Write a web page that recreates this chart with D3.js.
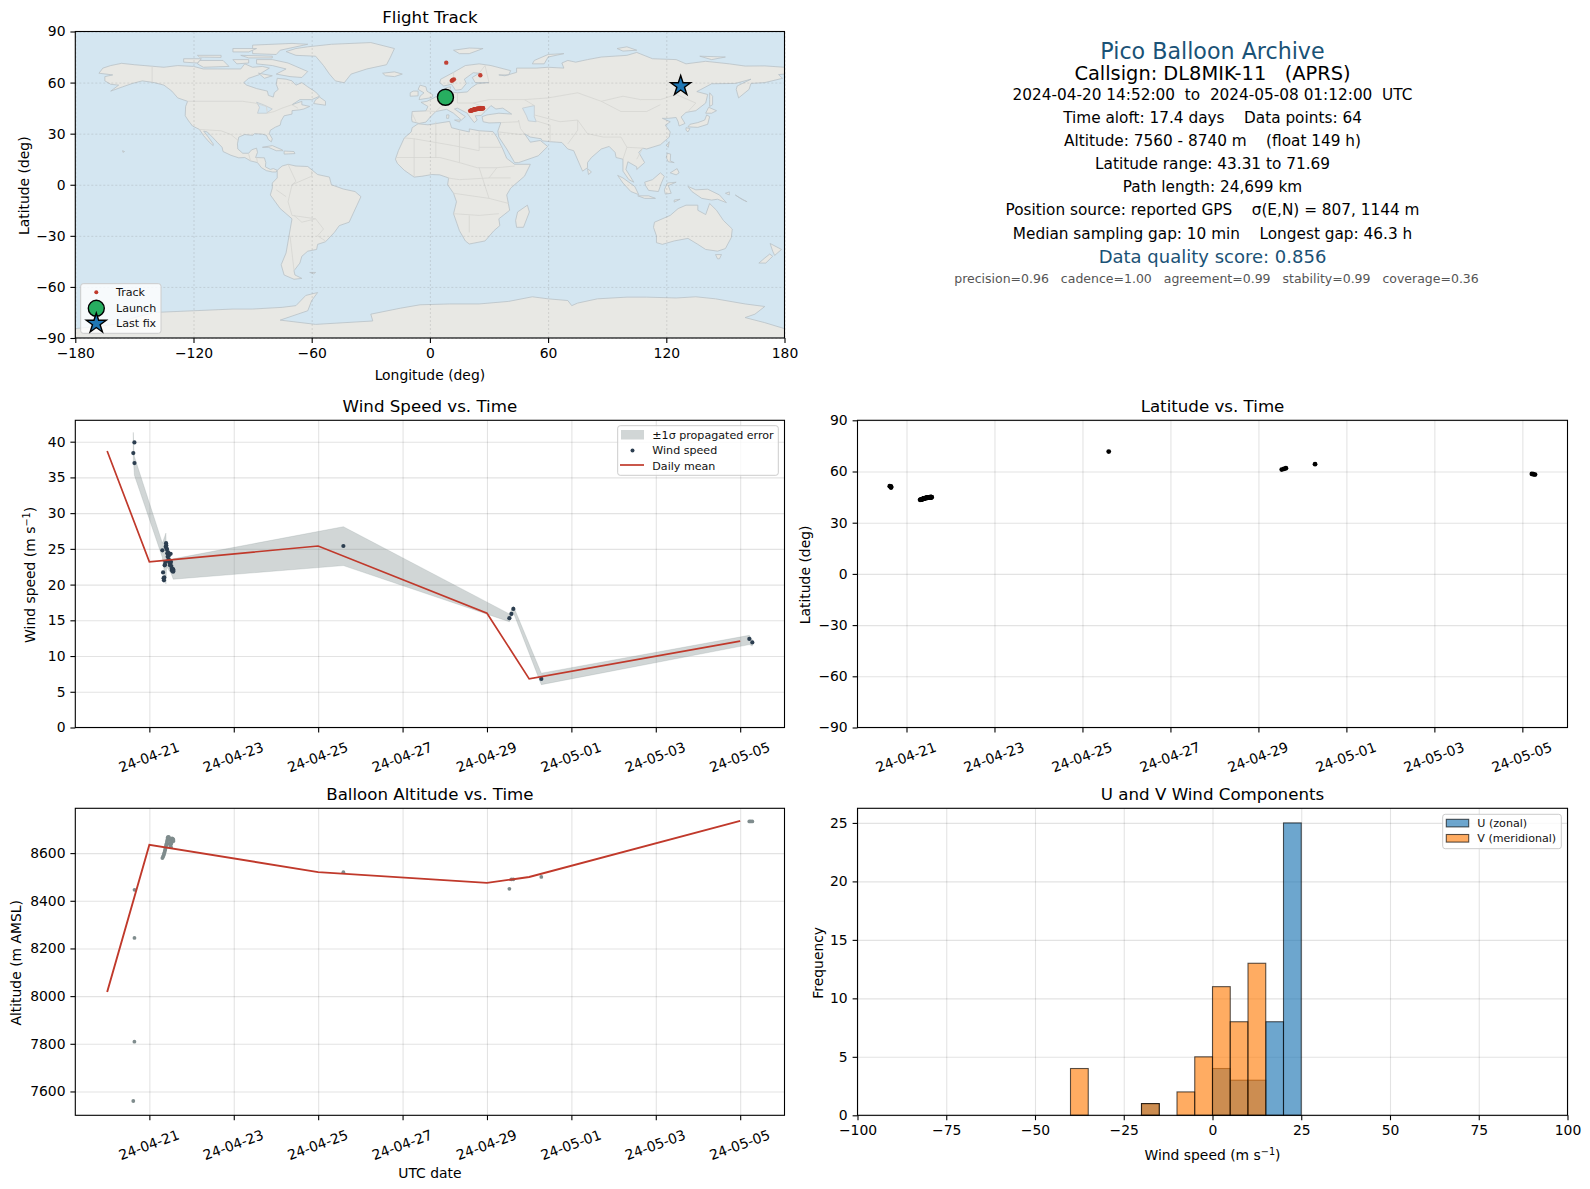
<!DOCTYPE html>
<html>
<head>
<meta charset="utf-8">
<script src="https://cdn.jsdelivr.net/npm/d3@7"></script>
<style>
  html, body { margin: 0; padding: 0; background: #fff; }
  svg { display: block; font-family: "DejaVu Sans", sans-serif; }
  .axis text { font-size: 13.9px; fill: #000; font-family: "DejaVu Sans", sans-serif; }
  .axis path { display: none; }
  .axis line { stroke: #000; stroke-width: 1.1; }
  .grid path { display: none; }
  .grid line { stroke: #000; stroke-opacity: 0.11; stroke-width: 1.1; }
  .map-grid path { display: none; }
  .map-grid line { stroke: #777; stroke-opacity: 0.3; stroke-width: 0.7; stroke-dasharray: 2 2; }
  .spine { fill: none; stroke: #000; stroke-width: 1.1; }
  .legend-frame { fill: #fff; fill-opacity: 0.8; stroke: #ccc; stroke-width: 1; }
  .legend-text { font-size: 11.1px; fill: #111; }
</style>
</head>
<body>
<div id="chart"></div>
<script>
// Telemetry (times are UTC, 2024)
const fixTimes = [
  "04-20 14:52", "04-20 15:30", "04-20 15:32", "04-20 15:34",
  "04-21 07:24", "04-21 07:48", "04-21 08:06", "04-21 08:18", "04-21 08:30", "04-21 08:42",
  "04-21 08:54", "04-21 09:06", "04-21 09:18", "04-21 09:30", "04-21 09:36", "04-21 09:48",
  "04-21 10:00", "04-21 10:12", "04-21 10:24", "04-21 10:30", "04-21 10:42", "04-21 10:54",
  "04-21 11:00", "04-21 11:12", "04-21 11:24", "04-21 11:30", "04-21 11:42", "04-21 11:54",
  "04-21 12:06", "04-21 12:18", "04-21 12:30", "04-21 12:42", "04-21 12:54", "04-21 13:06",
  "04-21 13:18", "04-21 13:30", "04-21 13:36", "04-21 13:42",
  "04-25 14:20", "04-29 12:44", "04-29 13:54", "04-29 15:00", "04-30 06:54",
  "05-05 05:12", "05-05 06:00", "05-05 06:54"
];
const windSpeeds = [
  38.4, 39.9, 37.0, null,
  24.8, 21.7, 20.9, 20.6, 21.0, 22.7,
  22.8, 23.2, 25.3, 25.8, 25.5, 25.1,
  24.9, 24.4, 23.9, 24.3, 24.5, 23.5,
  24.0, 23.3, 23.1, 23.4, 22.7, 23.0,
  24.3, 23.2, 22.6, 22.2, 22.0, 21.9,
  22.2, 21.8, 22.1, 21.9,
  25.4, 15.3, 15.9, 16.6, 6.8,
  12.4, null, 11.9
];
const altitudes = [
  7560, 7809, 8244, 8446,
  8579, 8585, 8590, 8596, 8600, 8605,
  8612, 8618, 8622, 8630, 8634, 8640,
  8648, 8655, 8663, 8667, 8660, 8665,
  8668, 8664, 8655, 8640, 8638, 8630,
  8635, 8625, 8640, 8650, 8662, 8655,
  8660, 8657, 8650, 8655,
  8520, 8450, 8490, 8490, 8500,
  8733, 8733, 8733
];
const latitudes = [
  51.4, 51.2, 50.9, 50.6,
  43.4, 43.5, 43.6, 43.7, 43.8, 43.8,
  43.9, 44.0, 44.1, 44.2, 44.2, 44.3,
  44.3, 44.4, 44.4, 44.5, 44.5, 44.5,
  44.6, 44.6, 44.6, 44.7, 44.7, 44.7,
  44.8, 44.8, 44.8, 44.9, 44.9, 44.9,
  44.9, 44.9, 44.9, 44.9,
  71.7, 61.1, 61.5, 61.9, 64.3,
  58.6, 58.4, 58.2
];
const longitudes = [
  7.9, 7.9, 8.0, 8.0,
  20.4, 20.8, 21.0, 21.2, 21.4, 21.6,
  21.8, 22.0, 22.2, 22.4, 22.6, 22.8,
  23.0, 23.2, 23.4, 23.6, 23.8, 24.0,
  24.2, 24.4, 24.6, 24.8, 25.0, 25.2,
  25.4, 25.6, 25.8, 26.0, 26.2, 26.4,
  26.6, 26.8, 26.9, 27.0,
  8.3, 11.1, 11.6, 12.2, 25.6,
  127.0, 127.2, 127.3
];

const launchFix = [7.9, 51.4];
const lastFix = [127.3, 58.0];

// Daily means
const dailyDates = ["04-20 00:00", "04-21 00:00", "04-25 00:00", "04-29 00:00", "04-30 00:00", "05-05 00:00"];
const dailyWind = [38.7, 23.2, 25.4, 16.0, 6.8, 12.1];
const dailyAlt = [8017, 8635, 8520, 8475, 8500, 8735];

// +/- 1 sigma band around the wind speed
const bandTimes = ["04-20 14:52", "04-20 15:10", "04-20 15:30", "04-21 07:24", "04-21 09:24", "04-21 09:48", "04-21 12:30",
  "04-21 13:36", "04-25 14:20", "04-29 12:44", "04-29 15:00", "04-30 06:54", "05-05 05:12", "05-05 06:54"];
const bandUpper = [41.3, 39.0, 37.9, 25.8, 27.2, 24.0, 23.3, 23.6, 28.1, 15.9, 17.0, 7.6, 12.9, 12.3];
const bandLower = [37.5, 36.5, 35.3, 23.8, 20.1, 22.5, 21.5, 20.75, 22.66, 14.8, 16.1, 6.0, 11.6, 11.4];

// Histogram of the wind components (5 m/s bins, value is the left edge)
const binWidth = 5;
const uBins = [-20, 0, 5, 10, 15, 20];
const uCounts = [1, 4, 3, 3, 8, 25];
const vBins = [-40, -20, -10, -5, 0, 5, 10];
const vCounts = [4, 1, 2, 5, 11, 8, 13];

// Tick labels
const dateTicks = ["04-21", "04-23", "04-25", "04-27", "04-29", "05-01", "05-03", "05-05"];
const lonTicks = [-180, -120, -60, 0, 60, 120, 180];
const latTicks = [-90, -60, -30, 0, 30, 60, 90];
const windTicks = [0, 5, 10, 15, 20, 25, 30, 35, 40];
const altTicks = [7600, 7800, 8000, 8200, 8400, 8600];
const histXTicks = [-100, -75, -50, -25, 0, 25, 50, 75, 100];
const histYTicks = [0, 5, 10, 15, 20, 25];

// Summary text panel
const infoLines = [
  { text: "Pico Balloon Archive", y: 58.5, size: 22.2, color: "#1a5276" },
  { text: "Callsign: DL8MIK-11   (APRS)", y: 80.3, size: 19.4, color: "#000" },
  { text: "2024-04-20 14:52:00  to  2024-05-08 01:12:00  UTC", y: 99.6, size: 15.3, color: "#000" },
  { text: "Time aloft: 17.4 days    Data points: 64", y: 122.8, size: 15.3, color: "#000" },
  { text: "Altitude: 7560 - 8740 m    (float 149 h)", y: 145.6, size: 15.3, color: "#000" },
  { text: "Latitude range: 43.31 to 71.69", y: 168.8, size: 15.3, color: "#000" },
  { text: "Path length: 24,699 km", y: 192, size: 15.3, color: "#000" },
  { text: "Position source: reported GPS    σ(E,N) = 807, 1144 m", y: 215.2, size: 15.3, color: "#000" },
  { text: "Median sampling gap: 10 min    Longest gap: 46.3 h", y: 238.6, size: 15.3, color: "#000" },
  { text: "Data quality score: 0.856", y: 263.4, size: 18, color: "#1a5276" },
  { text: "precision=0.96   cadence=1.00   agreement=0.99   stability=0.99   coverage=0.36", y: 282.6, size: 12.5, color: "#555" }
];

// Coastlines, hand traced [lon, lat]
const landPolygons = [
  // North America
  [[-168,65.5],[-166,68.5],[-162,70],[-156.5,71.3],[-150,70.5],[-141,69.6],[-135,69],[-128,70],[-120,69.5],[-115,68],[-108,68],[-102,68],[-96,68],[-94,71],[-90,69],[-85,69.5],[-81.5,68.5],[-85,66],[-87,64.5],[-92,62.5],[-94.5,60],[-93,58.5],[-88,56.5],[-82.5,55],[-82,52.5],[-79.5,51.5],[-79,54],[-77,56],[-78,59],[-77.5,62.5],[-73,62],[-70,61],[-68,58.5],[-65,60],[-62,57.5],[-58,54.5],[-56,52],[-60,50],[-66,50],[-70,47],[-65,49],[-65,47],[-61,46],[-64,44.5],[-66,44],[-70,43.5],[-70,41.5],[-74,40.5],[-75.5,37.5],[-76,35],[-78.5,33.8],[-81,32],[-81.5,30],[-80,27],[-80.5,25.2],[-82,26.5],[-83,29],[-85,29.7],[-89,30],[-90,29],[-94,29.5],[-97,28],[-97.7,24],[-97.5,21],[-95,18.5],[-92,18.5],[-90.5,20.5],[-88,21.5],[-87.5,19],[-88.5,16],[-84,15.8],[-83.3,13],[-83.5,10.5],[-81,9],[-79.5,9.5],[-77.5,8.5],[-78,7.5],[-80,7.5],[-83,8.3],[-85.5,10],[-87.5,13],[-91,14],[-94,16],[-97,15.8],[-101,17.3],[-105,19.5],[-105.5,22],[-108,25],[-110,27.5],[-113,31],[-114.8,31.5],[-112.5,28],[-110,24],[-110,23],[-112,25],[-115,29],[-117,32.5],[-120.5,34.5],[-122.5,37.5],[-124.2,40.5],[-124,46],[-123,49],[-128,51],[-131,55],[-135,58.5],[-140,60],[-146,61],[-151,59.5],[-156,57.5],[-162,55],[-158,58.5],[-162,59],[-165,61],[-165,63.5],[-161,64.5]],
  // Arctic islands
  [[-80,73.5],[-72,71.5],[-68,69.5],[-62,66.5],[-65,63],[-71,63.5],[-78,65],[-73,68],[-80,70],[-88,71],[-88,73.5]],
  [[-117,73],[-105,73],[-102,69.5],[-115,69],[-118,71]],
  [[-125,74],[-116,74],[-118,71.5],[-125,72]],
  [[-90,77],[-78,76.5],[-76,79],[-62,82.5],[-70,83],[-90,82]],
  [[-96,76],[-80,75.5],[-80,74.5],[-92,74.5]],
  [[-118,76],[-106,76],[-106,74.8],[-117,75]],
  [[-100,80],[-88,80],[-92,78],[-100,78]],
  [[-100,73.5],[-92,73.5],[-92,71.5],[-98,71]],
  [[-87,65.5],[-80,64],[-84,62.5]],
  [[-59,47.7],[-53,46.7],[-53,49],[-56,51.5],[-58,50]],
  [[-85,22],[-80,23],[-75,20.5],[-74.5,20],[-78,20],[-82,22]],
  [[-74,19.8],[-69,19.5],[-68.5,18.3],[-74,18]],
  [[-156,20],[-155,19.5],[-155.8,19]],
  // Greenland
  [[-73,78.2],[-68,76],[-58,75.5],[-54,70],[-51,65],[-48,61],[-43.5,59.9],[-40,65],[-32,68],[-22,70.5],[-20,75],[-18,80],[-30,83.5],[-50,82.5],[-62,81],[-68,80]],
  // South America
  [[-77.5,8.5],[-75,11],[-72,12],[-68,11],[-62,10.7],[-57,6],[-51,4.5],[-50,0],[-44,-2.5],[-38,-4],[-35,-7],[-37,-12],[-39,-17],[-41,-22],[-46,-24],[-48.5,-28],[-53,-33.5],[-57,-35],[-57.5,-38],[-62,-39],[-65,-42],[-66,-46],[-69,-50.5],[-68.5,-53],[-65,-55],[-69,-55.5],[-74,-53],[-75.5,-47],[-73,-40],[-71.5,-30],[-70,-20],[-76,-14],[-81,-6],[-80,-2],[-80,1],[-77.5,4]],
  [[-61,-51.5],[-58,-51.5],[-59,-52.3]],
  // Africa
  [[-6,35.8],[-1,35.2],[10,37.2],[11,33.5],[15,32.3],[20,31],[20,32.8],[25,31.7],[32,31.2],[34,28],[37,21],[39,15.5],[43,12],[51,12],[48,5],[41,-2],[39,-6],[40.5,-15],[35,-20],[35.5,-24],[32.5,-27],[28,-33],[20,-34.8],[18,-33],[15,-27],[12,-17],[13.5,-10],[12,-5],[9,0],[9.5,4],[5,5.8],[1,6],[-4,5],[-8,4.5],[-13,8.5],[-16.5,12.5],[-17.5,15],[-16,20],[-13,27.5],[-9.5,31],[-9,33.5]],
  // Eurasia
  [[-9,37],[-9.3,38.8],[-9,43],[-2,43.4],[-1,46],[-4.5,48.4],[-1.5,49],[2,51],[5,53],[8.5,54],[8.3,57],[10.5,57.5],[10,54.5],[14,54],[19,54.5],[21,57],[24,59.3],[30,60],[23,60],[21.5,63],[25,65.5],[22,65.8],[17.5,62],[18.5,59.5],[16,56],[13,55.5],[11,59],[7,58],[5,60],[5.5,62],[12,66],[18,70],[25,71],[31,70],[41,67],[40,64.5],[35,64.5],[38,64],[44,66],[44,68.5],[54,68.5],[60,69],[68,68.5],[67,71.5],[70,73],[74,72],[80,73.5],[87,75],[100,76],[105,77.7],[113,74],[125,73.5],[130,71],[140,72.5],[152,71],[160,69.7],[170,69.8],[180,69],[180,65],[177,64.7],[179,62.5],[170,60],[163,59.5],[162,56],[156.7,51],[155.5,56],[156,58],[163,62],[155,59.5],[143,59.3],[135.5,54.7],[141,53],[140,48],[135,43.5],[130,42.5],[127.5,39.8],[129.5,36],[126.5,34.5],[126,37],[125,39.5],[121,39],[118,39],[122,37],[119.5,35],[122,31],[121.5,28],[117,23.5],[110,21],[108,21.5],[106,19],[109,13],[105,9],[105,10.5],[100.5,13.5],[99.5,9],[103.5,1.5],[101,3],[98,8],[98,15],[94.5,16],[94,19],[91,22.5],[87,21],[82,16],[80,13],[80,10],[77.5,8],[73,20],[70,21],[67,24.8],[61,25.3],[57,25.8],[56.5,27],[51,28],[48,30],[51,25],[56,26],[59.8,22.5],[55,17],[45,13],[43,13],[39,21],[35,28],[34.5,31.5],[36,36.5],[30,36.3],[27,37],[26.5,40],[29,41],[35,42],[41.5,41.5],[37,45],[33.5,44.5],[31,46.5],[28,43],[26,40.7],[23,40.5],[24,38],[22.5,36.5],[19.5,41],[19,42],[14,45],[12.5,44.5],[18,40],[16,38],[12,42],[8.5,44.3],[3,43],[0,39.5],[-2,36.8],[-5.5,36]],
  // European and Arctic islands
  [[-5.5,50],[1,51.2],[1.5,52.8],[-1.5,55],[-2,57.5],[-5,58.5],[-6,56],[-3,54],[-5,52]],
  [[-10,52],[-6,52.2],[-6,55],[-8.5,55],[-10,54]],
  [[-24,65.5],[-18,66.3],[-14,65],[-18,63.5],[-22.5,64]],
  [[12,79],[20,80.3],[27,80],[20,77],[15,77]],
  [[52,71],[58,71],[60,75],[68,77],[60,76.5],[53,73]],
  [[95,80],[100,81],[105,79],[98,78.5]],
  [[137,75.5],[150,75],[143,73.5]],
  [[8.5,41],[9.7,41],[9.5,39],[8.5,39]],
  [[12.5,38],[15.5,38],[15,36.8]],
  // East and South-East Asia
  [[142,54],[143.5,52],[143.5,47],[142,46],[142,50]],
  [[131,34],[136,33.7],[141,35.5],[142,40],[140.5,41],[139.5,38],[136,36.5],[132,35.5]],
  [[140,42],[141.5,45.5],[145.5,43.5],[143,42]],
  [[130,33.5],[132,33],[131,31],[130,32]],
  [[120,23],[121.5,25.3],[121,22]],
  [[120,16],[120.5,18.5],[122.2,18],[122,14],[124,13],[121,13.5]],
  [[122,7],[125.5,9.5],[126.5,7],[125,5.8]],
  [[80,9.5],[82,7.5],[80.5,6]],
  [[95.3,5.5],[98,4],[104,-1],[106,-5.8],[102,-4],[98,1]],
  [[105.5,-6.5],[111,-6.5],[114.5,-8],[109,-8]],
  [[109,1.5],[113,3],[117,7],[119,5],[117.5,1],[116,-4],[111,-3.3],[109.5,-0.5]],
  [[119.5,-5.5],[119,-3],[120.5,1],[125,1.5],[121,-0.5],[122.5,-5]],
  [[131,-1],[135,-3],[141,-2.6],[147,-6],[150.5,-10.5],[146,-8.5],[143,-9],[138,-8],[133,-4]],
  [[124,-9],[127,-8.5],[124,-10.2]],
  [[150,-5],[152,-4.2],[152,-6]],
  [[155,-6],[157,-7.5],[161,-10],[159,-9]],
  // Madagascar, Australia, New Zealand
  [[49.5,-12],[50.5,-16],[47.5,-25],[44,-25],[43.5,-21],[44.5,-16]],
  [[114,-22],[122,-18],[126,-14],[130,-12],[136,-12],[136,-15],[140,-17.5],[142,-11],[145.5,-15],[149,-21],[153.5,-26],[153,-31],[150,-37.5],[146,-39],[140,-38],[136,-35],[131,-31.5],[124,-33],[118,-35],[115,-34],[115,-30],[113.5,-25]],
  [[145,-41],[148,-41],[147,-43.5],[146,-43.5]],
  [[172.7,-34.5],[178.5,-38],[175,-41.5],[174,-39]],
  [[172.5,-40.7],[174,-42],[170.5,-46],[167,-46],[170,-43]],
  // Antarctica
  [[-180,-84.5],[-160,-82],[-150,-78],[-140,-75],[-120,-74],[-100,-73],[-90,-73],[-75,-72],[-68,-71],[-63,-65],[-57,-63.3],[-60,-68],[-62,-74],[-76,-79.5],[-58,-82],[-29,-80],[-30,-76],[-15,-72.5],[-5,-70.5],[10,-70],[25,-70],[40,-68.5],[52,-65.8],[60,-67],[70,-68],[72,-71],[75,-69.5],[85,-67],[100,-66],[110,-66],[125,-66.5],[135,-65.8],[145,-67],[160,-70],[170,-71.5],[165,-76],[160,-78],[170,-81],[180,-84.5],[180,-90],[-180,-90]]
];

// Inland seas painted over the land
const seaPolygons = [
  [[47,45],[53,46.5],[53,40],[54,37],[50,37.5],[49,40.5]],
  [[-88,48.5],[-84.5,47],[-80,44.5],[-83,42],[-87.5,42],[-86.5,45.5]]
];

const borderLines = [
  [[-141,69.6],[-141,60]], [[-123,49],[-95,49],[-89,48],[-83,46],[-82.5,42],[-79,43],[-75,45],[-70,47],[-67,45]],
  [[-117,32.5],[-106,31.7],[-101,29.5],[-97.3,26]], [[-92,18],[-91,14]], [[-88,16],[-87.5,13]],
  [[-70,-18],[-58,-20],[-54,-26],[-57,-30],[-53,-33]], [[-70,-18],[-72,-10],[-70,0],[-60,5],[-60,8]],
  [[-71,-30],[-69,-50]], [[-58,-20],[-65,-22],[-69,-18]], [[-73,-7],[-78,-3]], [[-72,12],[-68,2],[-70,0]],
  [[-13,27.5],[-8,27],[12,23],[25,20],[25,31.7]], [[25,22],[37,22]], [[-17,16],[5,16],[15,13],[24,10],[34,10],[43,11]],
  [[9,4],[15,3],[30,4],[41,4]], [[12,-5],[30,-8],[40,-11]], [[12,-17],[25,-18],[35,-17]], [[20,-28],[20,-18]],
  [[3,37],[3,16]], [[15,32],[15,13]], [[25,10],[30,-8]], [[-8,27],[-8,5]], [[34,10],[30,4]],
  [[28,70],[30,60]], [[30,50],[40,50],[48,50],[60,51],[75,54],[87,49],[98,52],[107,50],[117,50],[125,53],[135,48],[131,43]],
  [[75,38],[80,30],[88,28],[97,28],[100,22],[108,21.5]], [[70,24],[75,32],[75,38]], [[45,38],[46,33],[48,30]],
  [[61,25],[61,35],[54,37.5]], [[87,49],[97,43],[110,43],[117,47]], [[53,41],[66,37],[75,38]], [[48,50],[53,46.5]],
  [[36,36.5],[45,37],[45,38]], [[35,31],[46,29.5],[48,30]], [[5,50],[7,47.5],[3,43]], [[14,54],[14,48],[22,48],[30,50]],
  [[22,48],[28,45.5]], [[100,22],[98,15]], [[108,21.5],[105,15]], [[-2,43.4],[3,43]], [[-9,42],[-7,37]], [[12,66],[12,59]], [[25,65.5],[28,70]]
];

const width = 1590, height = 1189;
const leftCol = { x0: 75.3, x1: 784.5 };
const rightCol = { x0: 857.5, x1: 1567.5 };
const rows = [{ y0: 31.5, y1: 338 }, { y0: 420.3, y1: 727.5 }, { y0: 808.3, y1: 1115.3 }];

const parseFix = d3.utcParse("%Y-%m-%d %H:%M");
const toDate = s => parseFix("2024-" + s);
const tickDates = dateTicks.map(s => toDate(s + " 00:00"));
const minusFormat = d => String(d).replace("-", "\u2212");

const svg = d3.select("#chart").append("svg").attr("width", width).attr("height", height);

function makePanel(col, row, title) {
  const g = svg.append("g");
  g.append("text")
    .attr("x", (col.x0 + col.x1) / 2)
    .attr("y", row.y0 - 8.3)
    .attr("text-anchor", "middle")
    .style("font-size", "16.67px")
    .text(title);
  return g;
}

function addGrid(g, x, y, col, row, xTicks, yTicks, cls) {
  g.append("g").attr("class", cls)
    .attr("transform", `translate(0,${row.y1})`)
    .call(d3.axisBottom(x).tickValues(xTicks).tickSize(-(row.y1 - row.y0)).tickFormat(""));
  g.append("g").attr("class", cls)
    .attr("transform", `translate(${col.x0},0)`)
    .call(d3.axisLeft(y).tickValues(yTicks).tickSize(-(col.x1 - col.x0)).tickFormat(""));
}

function addAxes(g, x, y, col, row, xTicks, yTicks, xFormat) {
  const xAxis = g.append("g").attr("class", "axis")
    .attr("transform", `translate(0,${row.y1})`)
    .call(d3.axisBottom(x).tickValues(xTicks).tickSize(4.9).tickPadding(4.9).tickFormat(xFormat));
  g.append("g").attr("class", "axis")
    .attr("transform", `translate(${col.x0},0)`)
    .call(d3.axisLeft(y).tickValues(yTicks).tickSize(4.9).tickPadding(4.9).tickFormat(minusFormat));
  g.append("rect").attr("class", "spine")
    .attr("x", col.x0).attr("y", row.y0)
    .attr("width", col.x1 - col.x0).attr("height", row.y1 - row.y0);
  return xAxis;
}

function rotateDateLabels(xAxis) {
  xAxis.selectAll("text")
    .attr("y", 0).attr("dy", 0)
    .attr("text-anchor", "middle")
    .attr("dominant-baseline", "central")
    .attr("transform", "translate(-1,29.5) rotate(-20)");
}

function xLabel(x, y, parts) {
  const t = svg.append("text").attr("x", x).attr("y", y).attr("text-anchor", "middle").style("font-size", "13.9px");
  addParts(t, parts);
}

function yLabel(x, y, parts) {
  const t = svg.append("text").attr("transform", `translate(${x},${y}) rotate(-90)`)
    .attr("text-anchor", "middle").style("font-size", "13.9px");
  addParts(t, parts);
}

// parts: plain strings, or {exponent: "..."} for a superscript
function addParts(t, parts) {
  let back = false;
  parts.forEach(p => {
    const span = t.append("tspan");
    if (typeof p !== "string") {
      span.attr("dy", -5).style("font-size", "9.7px").text(p.exponent);
      back = true;
    } else {
      if (back) span.attr("dy", 5);
      span.text(p);
      back = false;
    }
  });
}

function starPath(cx, cy, R) {
  const r = R * 0.382;
  const pts = d3.range(10).map(i => {
    const a = -Math.PI / 2 + i * Math.PI / 5;
    const q = i % 2 ? r : R;
    return [cx + q * Math.cos(a), cy + q * Math.sin(a)];
  });
  return "M" + pts.join("L") + "Z";
}

function legendFrame(g, x0, x1, y0, y1) {
  g.append("rect").attr("class", "legend-frame").attr("rx", 2.5)
    .attr("x", x0).attr("y", y0).attr("width", x1 - x0).attr("height", y1 - y0);
}

function legendText(g, x, y, s) {
  g.append("text").attr("class", "legend-text").attr("x", x).attr("y", y).attr("dy", "0.36em").text(s);
}

// ---- Flight track map ----
function drawMap() {
  const col = leftCol, row = rows[0];
  const g = makePanel(col, row, "Flight Track");
  const x = d3.scaleLinear().domain([-180, 180]).range([col.x0, col.x1]);
  const y = d3.scaleLinear().domain([-90, 90]).range([row.y1, row.y0]);
  const geo = d3.line().x(d => x(d[0])).y(d => y(d[1]));

  svg.append("clipPath").attr("id", "map-clip").append("rect")
    .attr("x", col.x0).attr("y", row.y0).attr("width", col.x1 - col.x0).attr("height", row.y1 - row.y0);
  const m = g.append("g").attr("clip-path", "url(#map-clip)");

  m.append("rect").attr("x", col.x0).attr("y", row.y0)
    .attr("width", col.x1 - col.x0).attr("height", row.y1 - row.y0).attr("fill", "#d4e6f1");
  m.selectAll(".land").data(landPolygons).enter().append("path").attr("class", "land")
    .attr("d", d => geo(d) + "Z")
    .attr("fill", "#e8e8e4").attr("stroke", "#b9c1c7").attr("stroke-width", 0.8).attr("stroke-linejoin", "round");
  m.selectAll(".sea").data(seaPolygons).enter().append("path").attr("class", "sea")
    .attr("d", d => geo(d) + "Z")
    .attr("fill", "#d4e6f1").attr("stroke", "#b9c1c7").attr("stroke-width", 0.6);
  m.selectAll(".border").data(borderLines).enter().append("path").attr("class", "border")
    .attr("d", geo).attr("fill", "none").attr("stroke", "#d6d6d2").attr("stroke-width", 0.8);

  addGrid(g, x, y, col, row, lonTicks, latTicks, "map-grid");

  g.selectAll(".track").data(longitudes.slice(4)).enter().append("circle").attr("class", "track")
    .attr("cx", d => x(d))
    .attr("cy", (d, i) => y(latitudes[i + 4]))
    .attr("r", 2.2).attr("fill", "#c0392b").attr("fill-opacity", 0.95);

  g.append("circle").attr("cx", x(launchFix[0])).attr("cy", y(launchFix[1])).attr("r", 8)
    .attr("fill", "#27ae60").attr("stroke", "#000").attr("stroke-width", 1.4);
  g.append("path").attr("d", starPath(x(lastFix[0]), y(lastFix[1]), 10.5))
    .attr("fill", "#1f77b4").attr("stroke", "#000").attr("stroke-width", 1.4).attr("stroke-linejoin", "miter");

  addAxes(g, x, y, col, row, lonTicks, latTicks, minusFormat);
  xLabel((col.x0 + col.x1) / 2, 380, ["Longitude (deg)"]);
  yLabel(28.5, (row.y0 + row.y1) / 2 + 1, ["Latitude (deg)"]);

  legendFrame(g, 80.7, 161, 283.7, 333.3);
  g.append("circle").attr("cx", 96.3).attr("cy", 292.3).attr("r", 2).attr("fill", "#c0392b");
  legendText(g, 116, 292.5, "Track");
  g.append("circle").attr("cx", 96.3).attr("cy", 308.3).attr("r", 8)
    .attr("fill", "#27ae60").attr("stroke", "#000").attr("stroke-width", 1.4);
  legendText(g, 116, 308.5, "Launch");
  g.append("path").attr("d", starPath(96.3, 323.5, 10.5))
    .attr("fill", "#1f77b4").attr("stroke", "#000").attr("stroke-width", 1.4);
  legendText(g, 116, 323.5, "Last fix");
}

// ---- Summary text ----
function drawInfo() {
  const cx = (rightCol.x0 + rightCol.x1) / 2;
  svg.selectAll(".info").data(infoLines).enter().append("text").attr("class", "info")
    .attr("x", (d, i) => i === infoLines.length - 1 ? cx + 4 : cx).attr("y", d => d.y)
    .attr("text-anchor", "middle")
    .style("font-size", d => d.size + "px")
    .style("white-space", "pre")
    .attr("fill", d => d.color)
    .text(d => d.text);
}

// ---- Wind speed ----
function drawWind() {
  const col = leftCol, row = rows[1];
  const g = makePanel(col, row, "Wind Speed vs. Time");
  const x = d3.scaleUtc().domain([toDate("04-19 05:53"), toDate("05-06 01:12")]).range([col.x0, col.x1]);
  const y = d3.scaleLinear().domain([0, 40 + (441.7 - row.y0) / 7.15]).range([row.y1, row.y0]);
  addGrid(g, x, y, col, row, tickDates, windTicks, "grid");

  const area = d3.area()
    .x(d => x(toDate(d)))
    .y0((d, i) => y(bandLower[i]))
    .y1((d, i) => y(bandUpper[i]));
  g.append("path").attr("d", area(bandTimes))
    .attr("fill", "#7f8c8d").attr("fill-opacity", 0.36).attr("stroke", "#7f8c8d").attr("stroke-opacity", 0.2);

  const windFixes = fixTimes.map((t, i) => [t, windSpeeds[i]]).filter(d => d[1] !== null);
  g.selectAll(".wind-dot").data(windFixes).enter().append("circle").attr("class", "wind-dot")
    .attr("cx", d => x(toDate(d[0])))
    .attr("cy", d => y(d[1]))
    .attr("r", 2.1).attr("fill", "#2c3e50");

  const line = d3.line().x(d => x(toDate(d))).y((d, i) => y(dailyWind[i]));
  g.append("path").attr("d", line(dailyDates)).attr("fill", "none")
    .attr("stroke", "#c0392b").attr("stroke-width", 1.7);

  const xAxis = addAxes(g, x, y, col, row, tickDates, windTicks, d3.utcFormat("%y-%m-%d"));
  rotateDateLabels(xAxis);
  yLabel(35, (row.y0 + row.y1) / 2 + 1, ["Wind speed (m s", { exponent: "\u22121" }, ")"]);

  legendFrame(g, 617.7, 778.3, 425.7, 475.3);
  g.append("rect").attr("x", 621).attr("y", 430).attr("width", 23).attr("height", 9.5)
    .attr("fill", "#7f8c8d").attr("fill-opacity", 0.36);
  legendText(g, 652.3, 435.5, "\u00b11\u03c3 propagated error");
  g.append("circle").attr("cx", 632.5).attr("cy", 450.5).attr("r", 2).attr("fill", "#2c3e50");
  legendText(g, 652.3, 450.5, "Wind speed");
  g.append("line").attr("x1", 620).attr("x2", 644).attr("y1", 465).attr("y2", 465)
    .attr("stroke", "#c0392b").attr("stroke-width", 1.7);
  legendText(g, 652.3, 466, "Daily mean");
}

// ---- Latitude ----
function drawLatitude() {
  const col = rightCol, row = rows[1];
  const g = makePanel(col, row, "Latitude vs. Time");
  const x = d3.scaleUtc().domain([toDate("04-19 21:16"), toDate("05-06 00:38")]).range([col.x0, col.x1]);
  const y = d3.scaleLinear().domain([-90, 90]).range([row.y1, row.y0]);
  addGrid(g, x, y, col, row, tickDates, latTicks, "grid");

  g.selectAll(".lat-dot").data(latitudes).enter().append("circle").attr("class", "lat-dot")
    .attr("cx", (d, i) => x(toDate(fixTimes[i])))
    .attr("cy", d => y(d))
    .attr("r", 2.4).attr("fill", "#000");

  const xAxis = addAxes(g, x, y, col, row, tickDates, latTicks, d3.utcFormat("%y-%m-%d"));
  rotateDateLabels(xAxis);
  yLabel(810, (row.y0 + row.y1) / 2 + 1, ["Latitude (deg)"]);
}

// ---- Altitude ----
function drawAltitude() {
  const col = leftCol, row = rows[2];
  const g = makePanel(col, row, "Balloon Altitude vs. Time");
  const x = d3.scaleUtc().domain([toDate("04-19 05:53"), toDate("05-06 01:12")]).range([col.x0, col.x1]);
  const y = d3.scaleLinear().domain([7500, 8788]).range([row.y1, row.y0]);
  addGrid(g, x, y, col, row, tickDates, altTicks, "grid");

  g.selectAll(".alt-dot").data(altitudes).enter().append("circle").attr("class", "alt-dot")
    .attr("cx", (d, i) => x(toDate(fixTimes[i])))
    .attr("cy", d => y(d))
    .attr("r", 1.9).attr("fill", "#7f8c8d");

  const line = d3.line().x(d => x(toDate(d))).y((d, i) => y(dailyAlt[i]));
  g.append("path").attr("d", line(dailyDates)).attr("fill", "none")
    .attr("stroke", "#c0392b").attr("stroke-width", 1.9);

  const xAxis = addAxes(g, x, y, col, row, tickDates, altTicks, d3.utcFormat("%y-%m-%d"));
  rotateDateLabels(xAxis);
  xLabel((col.x0 + col.x1) / 2, 1178, ["UTC date"]);
  yLabel(20.5, (row.y0 + row.y1) / 2 + 1, ["Altitude (m AMSL)"]);
}

// ---- U / V histogram ----
function drawHistogram() {
  const col = rightCol, row = rows[2];
  const g = makePanel(col, row, "U and V Wind Components");
  const x = d3.scaleLinear().domain([-100, 100]).range([col.x0, col.x1]);
  const y = d3.scaleLinear().domain([0, 26.25]).range([row.y1, row.y0]);
  addGrid(g, x, y, col, row, histXTicks, histYTicks, "grid");

  const drawBars = (bins, counts, color) => {
    g.selectAll(null).data(bins).enter().append("rect")
      .attr("x", d => x(d))
      .attr("width", d => x(d + binWidth) - x(d))
      .attr("y", (d, i) => y(counts[i]))
      .attr("height", (d, i) => y(0) - y(counts[i]))
      .attr("fill", color).attr("fill-opacity", 0.65)
      .attr("stroke", "#000").attr("stroke-opacity", 0.65).attr("stroke-width", 1.1);
  };
  drawBars(uBins, uCounts, "#1f77b4");
  drawBars(vBins, vCounts, "#ff7f0e");

  addAxes(g, x, y, col, row, histXTicks, histYTicks, minusFormat);
  xLabel((col.x0 + col.x1) / 2, 1160, ["Wind speed (m s", { exponent: "\u22121" }, ")"]);
  yLabel(823, (row.y0 + row.y1) / 2 + 1, ["Frequency"]);

  legendFrame(g, 1442.7, 1561.3, 814.3, 848.7);
  [["U (zonal)", "#1f77b4", 819.3], ["V (meridional)", "#ff7f0e", 834.5]].forEach(item => {
    g.append("rect").attr("x", 1446.3).attr("y", item[2]).attr("width", 22.4).attr("height", 7.6)
      .attr("fill", item[1]).attr("fill-opacity", 0.65)
      .attr("stroke", "#000").attr("stroke-opacity", 0.65).attr("stroke-width", 1.1);
    legendText(g, 1477.3, item[2] + 4, item[0]);
  });
}

drawMap();
drawInfo();
drawWind();
drawLatitude();
drawAltitude();
drawHistogram();
</script>
</body>
</html>
